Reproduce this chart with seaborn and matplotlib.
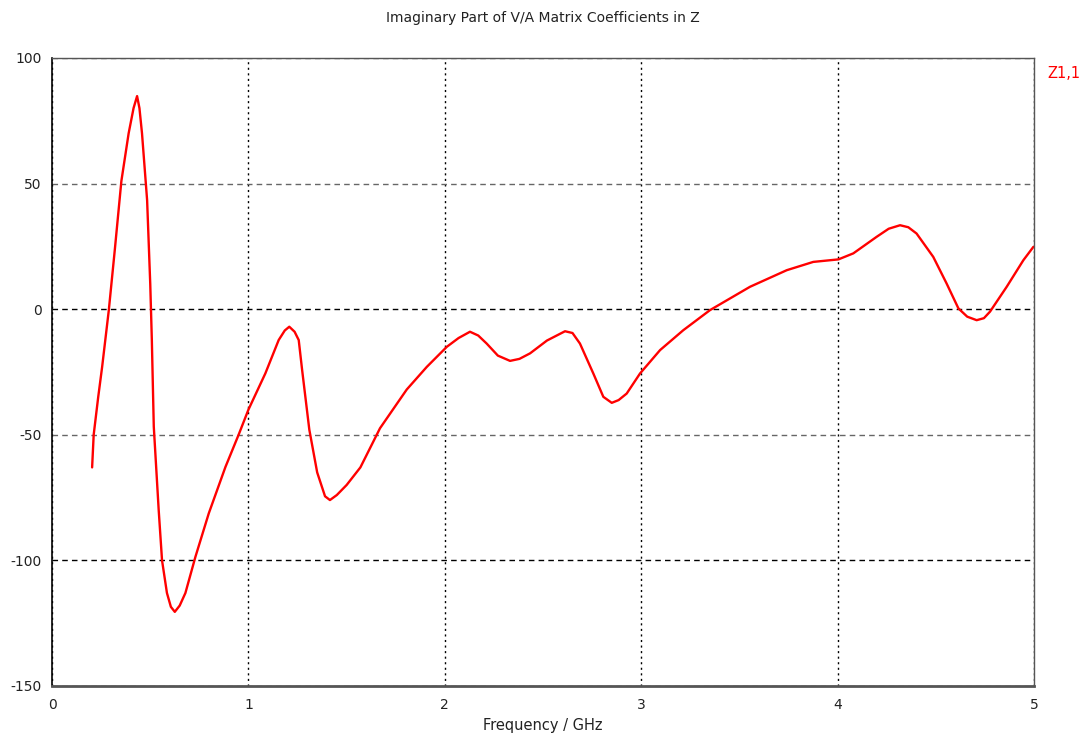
import matplotlib
matplotlib.use('Agg')
import matplotlib.pyplot as plt
import pandas as pd
import seaborn as sns

# Values
freq = [0.204, 0.212, 0.235, 0.255, 0.289, 0.32, 0.353, 0.39, 0.415, 0.433,
        0.445, 0.458, 0.484, 0.5, 0.508, 0.518, 0.543, 0.56, 0.585, 0.605,
        0.625, 0.65, 0.679, 0.73, 0.798, 0.883, 0.95, 1.0, 1.086, 1.154,
        1.185, 1.208, 1.235, 1.256, 1.273, 1.31, 1.35, 1.39, 1.415, 1.45,
        1.5, 1.57, 1.67, 1.806, 1.908, 2.01, 2.07, 2.128, 2.17, 2.213,
        2.27, 2.332, 2.38, 2.434, 2.52, 2.612, 2.65, 2.688, 2.756, 2.807,
        2.85, 2.885, 2.926, 2.994, 3.096, 3.214, 3.35, 3.554, 3.741, 3.876,
        4.004, 4.08, 4.199, 4.26, 4.318, 4.36, 4.402, 4.487, 4.555, 4.615,
        4.66, 4.708, 4.745, 4.776, 4.861, 4.946, 4.997]
imag_z11 = [-63, -50, -35, -23, -0.4, 24, 51, 70, 80, 84.8,
            80, 70, 43.4, 10, -12, -46.8, -80, -100, -113, -118.5,
            -120.5, -118, -113, -98.6, -81.3, -62.8, -50, -40, -25.6, -12.3,
            -8.5, -7, -9, -12.3, -24, -48, -65, -74.5, -76, -74,
            -70, -63, -47.4, -32, -23, -15, -11.5, -9, -10.5, -13.7,
            -18.5, -20.6, -19.8, -17.6, -12.5, -8.8, -9.5, -13.7, -25.6, -34.9,
            -37.3, -36.2, -33.6, -25.6, -16.3, -8.4, -0.4, 8.9, 15.5, 18.8,
            19.8, 22.2, 28.8, 32, 33.4, 32.6, 30.1, 20.8, 10.2, 0.3,
            -3, -4.4, -3.6, -1, 8.9, 19.5, 24.8]
series_name = 'Z1,1'

df = pd.DataFrame({'freq': freq, 'value': imag_z11})

sns.set_style('white')
plt.rcParams['font.family'] = ['DejaVu Sans']
plt.rcParams['axes.unicode_minus'] = False

fig = plt.figure(figsize=(10.89, 7.36), dpi=100)
ax = fig.add_axes([0.0478, 0.068, 0.9017, 0.8533])

sns.lineplot(data=df, x='freq', y='value', ax=ax, color='#ff0000',
             linewidth=1.7, estimator=None, sort=False)

ax.set_xlim(0, 5)
ax.set_ylim(-150, 100)
ax.set_xticks([0, 1, 2, 3, 4, 5])
ax.set_yticks([-150, -100, -50, 0, 50, 100])

# Grid: dotted verticals, dashed horizontals (0 and -100 darker)
ax.grid(True, axis='x', color='black', linestyle=(0, (1.5, 2.5)), linewidth=1)
ax.grid(True, axis='y', color='#666666', linestyle=(0, (4, 3)), linewidth=1)
for tick, line in zip(ax.get_yticks(), ax.get_ygridlines()):
    if tick in (0, -100):
        line.set_color('black')

for side in ['top', 'right']:
    ax.spines[side].set_color('#555555')
    ax.spines[side].set_linewidth(1)
ax.spines['left'].set_color('black')
ax.spines['left'].set_linewidth(1.2)
ax.spines['bottom'].set_color('#555555')
ax.spines['bottom'].set_linewidth(2)

ax.tick_params(axis='both', direction='out', length=4, width=1,
               color='black', labelsize=10, labelcolor='#222222')
ax.tick_params(axis='x', pad=5)

ax.set_title('Imaginary Part of V/A Matrix Coefficients in Z',
             fontsize=10, pad=26, color='#222222')
ax.set_xlabel('Frequency / GHz', fontsize=10.5, color='#222222', labelpad=4)
ax.set_ylabel('')

ax.text(1.014, 0.975, series_name, transform=ax.transAxes, color='#ff0000',
        fontsize=10.5, ha='left', va='center')

fig.savefig('out.png', dpi=100)
